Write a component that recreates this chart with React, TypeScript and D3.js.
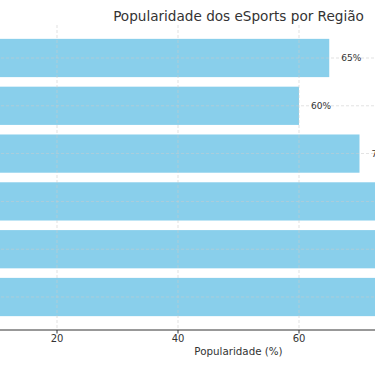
import React from 'react';
import * as d3 from 'd3';

// top to bottom
const regions = ['América do Norte', 'Europa', 'América Latina', 'Ásia', 'China', 'Coreia do Sul'];
const popularity = [65, 60, 70, 75, 80, 85];
const xTicks = [0, 20, 40, 60, 80, 100];

const width = 375;
const height = 366;
const font = 'DejaVu Sans, sans-serif';

export default function App() {
  const x = d3.scaleLinear().domain([0, 100]).range([-64, 541]);
  const y = d3.scaleLinear().domain([-0.69, 5.69]).range([25, 330]);
  const bh = (y(1) - y(0)) * 0.8;
  const top = y(-0.69);
  const bottom = y(5.69);

  return (
    <svg width={width} height={height} style={{ position: 'absolute', left: 0, top: 0 }}>
      <rect width={width} height={height} fill="#fff" />
      {regions.map((r, i) => (
        <rect
          key={r}
          x={x(0)}
          y={y(i) - bh / 2}
          width={x(popularity[i]) - x(0)}
          height={bh}
          fill="#87CEEB"
          opacity={0.98}
        />
      ))}
      {xTicks.map(t => (
        <line key={'gx' + t} x1={x(t)} x2={x(t)} y1={top} y2={bottom}
          stroke="#ccc" strokeWidth={0.8} strokeDasharray="3,2" opacity={0.7} />
      ))}
      {regions.map((r, i) => (
        <line key={'gy' + r} x1={x(0)} x2={x(100)} y1={y(i)} y2={y(i)}
          stroke="#ccc" strokeWidth={0.8} strokeDasharray="3,2" opacity={0.7} />
      ))}
      {regions.map((r, i) => (
        <text key={'l' + r} x={x(popularity[i] + 2)} y={y(i)} dy="0.35em"
          fontFamily={font} fontSize={9} fill="#333">
          {popularity[i]}%
        </text>
      ))}
      {regions.map((r, i) => (
        <text key={'c' + r} x={x(0) - 6} y={y(i)} dy="0.35em" textAnchor="end"
          fontFamily={font} fontSize={10} fill="#333">
          {r}
        </text>
      ))}
      <line x1={x(0)} x2={x(100)} y1={bottom} y2={bottom} stroke="#333" strokeWidth={1} />
      {xTicks.map(t => (
        <g key={'t' + t} transform={`translate(${x(t)},${bottom})`}>
          <line y2={3.5} stroke="#333" strokeWidth={1} />
          <text y={12} textAnchor="middle" fontFamily={font} fontSize={10} fill="#333">{t}</text>
        </g>
      ))}
      <text x={x(50)} y={355} textAnchor="middle" fontFamily={font} fontSize={10.3} fill="#333">
        Popularidade (%)
      </text>
      <text x={x(50)} y={21} textAnchor="middle" fontFamily={font} fontSize={13.6} fill="#333">
        Popularidade dos eSports por Região
      </text>
    </svg>
  );
}
